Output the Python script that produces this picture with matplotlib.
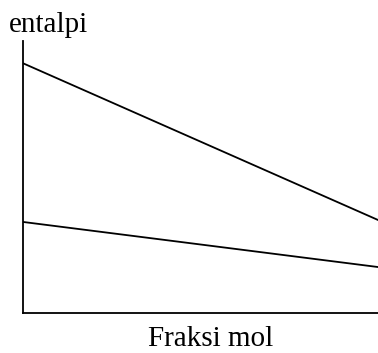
import matplotlib
matplotlib.use("Agg")
import matplotlib.pyplot as plt

# data (axes scaled 0..1)
fraksi = [0.0, 1.0]
entalpi_atas = [0.919, 0.342]
entalpi_bawah = [0.335, 0.169]

plt.rcParams['font.family'] = ['Liberation Serif', 'DejaVu Serif']

fig = plt.figure(figsize=(3.78, 3.53), dpi=100)
ax = fig.add_axes([22.5 / 378, 40 / 353, 1 - 22.5 / 378, 272 / 353])

ax.plot(fraksi, entalpi_atas, color='black', lw=1.3)
ax.plot(fraksi, entalpi_bawah, color='black', lw=1.3)

ax.set_xlim(0, 1)
ax.set_ylim(0, 1)
ax.set_xticks([])
ax.set_yticks([])
for side in ['top', 'right']:
    ax.spines[side].set_visible(False)
for side in ['left', 'bottom']:
    ax.spines[side].set_linewidth(1.3)
    ax.spines[side].set_color('black')

fig.text(210.5 / 378, (353 - 346) / 353, 'Fraksi mol', ha='center', va='baseline', fontsize=21)
fig.text(9 / 378, (353 - 31.7) / 353, 'entalpi', ha='left', va='baseline', fontsize=21)

fig.savefig('out.png', dpi=100)
